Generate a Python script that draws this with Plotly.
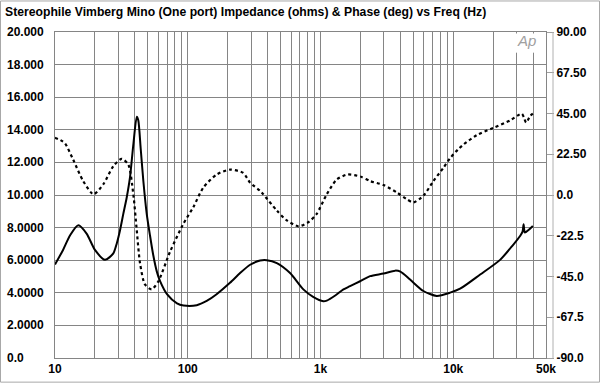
import math
import plotly.graph_objects as go

# ---------------- data ----------------
imp_freq = [10, 11.5, 13.0, 15.0, 17.3, 20.0, 23.8, 27.5, 29.2, 30.9, 32.7, 34.7, 36.7, 38.9,
            41.3, 42.4, 44.2, 46.3, 49.1, 52, 55, 58.5, 62, 70, 83, 93, 117, 139, 165, 208,
            248, 295, 351, 394, 469, 590, 743, 880, 1050, 1115, 1300, 1489, 1670, 1988, 2364,
            2981, 3650, 4000, 4732, 5956, 7510, 9485, 11270, 15960, 22540, 28000, 32000,
            33300, 33900, 34600, 35600, 37500, 39800]
imp_ohms = [5.74, 6.63, 7.53, 8.14, 7.63, 6.63, 6.02, 6.42, 7.03, 7.84, 8.84, 9.85, 11.06, 13.07,
            14.8, 14.58, 12.87, 10.86, 8.84, 7.5, 6.3, 5.3, 4.7, 3.9, 3.35, 3.22, 3.24, 3.5, 3.91, 4.61,
            5.21, 5.72, 5.98, 6.0, 5.82, 5.21, 4.21, 3.75, 3.48, 3.52, 3.85, 4.21, 4.41, 4.71, 5.02,
            5.18, 5.36, 5.3, 4.81, 4.11, 3.81, 4.01, 4.25, 5.12, 6.02, 6.9, 7.5,
            7.75, 8.2, 7.7, 7.75, 7.9, 8.1]

ph_freq = [10, 11.0, 11.9, 13.7, 16.3, 19.5, 23.1, 27.5, 31.8, 35.7, 38.9, 41.3, 43.7, 47.6,
           53.5, 60.1, 73.6, 92.7, 110, 131, 165, 208, 262, 295, 351, 371, 469, 557, 682,
           811, 937, 1115, 1328, 1600, 2000, 2364, 2981, 3756, 4466, 5010, 5956, 7095, 8430,
           9485, 11000, 12000, 15060, 20090, 26840, 32850, 34200, 35400, 37940, 39800]
ph_deg = [31.6, 30.3, 28.5, 19.5, 7.7, 0.4, 5.9, 15.9, 20.0, 16.7, 0.4, -19.5, -37.6, -49.4,
          -52.1, -47.6, -31.3, -15.9, -6.8, 4.1, 11.3, 14.0, 12.2, 6.8, 2.3, 0.4, -8.6, -14.0, -17.3,
          -15.0, -10.4, 0.4, 8.6, 11.3, 10.2, 7.7, 5.5, 1.4, -2.3, -4.1, -0.4, 7.7, 15.0,
          20.4, 25.5, 28.0, 33.1, 37.1, 41.2, 44.9, 42.5, 40.0, 43.6, 44.9]

left_vals = [20, 18, 16, 14, 12, 10, 8, 6, 4, 2, 0]
left_text = ["20.000", "18.000", "16.000", "14.000", "12.000", "10.000",
             "8.0000", "6.0000", "4.0000", "2.0000", "0.0"]
right_vals = [90, 67.5, 45, 22.5, 0, -22.5, -45, -67.5, -90]
right_text = ["90.00", "67.50", "45.00", "22.50", "0.0", "-22.5", "-45.0", "-67.5", "-90.0"]
x_label_map = {10: "10", 100: "100", 1000: "1k", 10000: "10k", 50000: "50k"}
x_grid = [m * 10 ** d for d in range(1, 5) for m in range(1, 10)]
x_grid = [v for v in x_grid if v <= 50000]
if 50000 not in x_grid:
    x_grid.append(50000)

title_text = "Stereophile Vimberg Mino (One port) Impedance (ohms) & Phase (deg) vs Freq (Hz)"

# ---------------- layout geometry ----------------
W, H = 600, 388
L, R, T, B = 55, 54, 32, 25
PW = W - L - R
PH = H - T - B


def px_x(p):
    return (p - L) / PW


def px_y(p):
    return 1 - (p - T) / PH


FONT = "Liberation Sans, Arial, Helvetica, sans-serif"
GRID = "#858585"

fig = go.Figure()
fig.add_trace(go.Scatter(
    x=imp_freq, y=imp_ohms, mode="lines", yaxis="y",
    line=dict(color="black", width=2, shape="spline", smoothing=0.7),
    showlegend=False, hoverinfo="skip"))
fig.add_trace(go.Scatter(
    x=ph_freq, y=ph_deg, mode="lines", yaxis="y2",
    line=dict(color="black", width=2.2, dash="3px,3px", shape="spline", smoothing=0.7),
    showlegend=False, hoverinfo="skip"))

fig.update_layout(
    width=W, height=H,
    margin=dict(l=L, r=R, t=T, b=B, pad=0),
    paper_bgcolor="white", plot_bgcolor="white",
    font=dict(family=FONT, color="black"),
    title=dict(text="<b>" + title_text + "</b>", x=5 / W, xanchor="left",
               y=1 - 12 / H, yanchor="middle", xref="container", yref="container",
               font=dict(size=12.2, family=FONT, color="black")),
    xaxis=dict(type="log", range=[1, math.log10(50000)],
               tickvals=x_grid,
               ticktext=["<b>" + x_label_map.get(v, "") + "</b>" for v in x_grid],
               tickfont=dict(size=12, family=FONT, color="black"), tickangle=0,
               ticks="", showgrid=True, gridcolor=GRID, gridwidth=1,
               showline=True, linecolor=GRID, mirror=True, zeroline=False),
    yaxis=dict(range=[0, 20], tickvals=left_vals, showticklabels=False, ticks="",
               showgrid=True, gridcolor=GRID, gridwidth=1,
               showline=True, linecolor=GRID, mirror=True, zeroline=False),
    yaxis2=dict(range=[-90, 90], overlaying="y", side="right",
                tickvals=right_vals,
                ticktext=["<b>" + t + "</b>" for t in right_text],
                tickfont=dict(size=12, family=FONT, color="black"),
                ticks="outside", ticklen=7, tickcolor="#a0a0a0", tickwidth=1,
                showgrid=False, zeroline=False, showline=False),
)

annotations = []
for v, t in zip(left_vals, left_text):
    annotations.append(dict(x=px_x(5), xref="paper", y=v, yref="y", text="<b>" + t + "</b>",
                            showarrow=False, xanchor="left", yanchor="middle",
                            font=dict(size=12, family=FONT, color="black")))
annotations.append(dict(x=px_x(526), xref="paper", y=px_y(41), yref="paper", text="<i>Ap</i>",
                        showarrow=False, xanchor="center", yanchor="middle",
                        font=dict(size=15, family=FONT, color="#a0a0a0")))
fig.update_layout(annotations=annotations)

fig.update_layout(shapes=[
    dict(type="rect", xref="paper", yref="paper", x0=px_x(512), x1=px_x(541),
         y0=px_y(33.5), y1=px_y(53), fillcolor="white", line=dict(width=0), layer="above"),
    dict(type="line", xref="paper", yref="paper", x0=px_x(553), x1=px_x(553),
         y0=0, y1=1, line=dict(color="#b0b0b0", width=1)),
    dict(type="rect", xref="paper", yref="paper", x0=px_x(0.5), x1=px_x(599.5),
         y0=px_y(0.5), y1=px_y(387.5), line=dict(color="#a8a8a8", width=1)),
])

fig.write_html("out.html", config={"displayModeBar": False},
               post_script="document.body.style.margin='0';document.body.style.padding='0';")
